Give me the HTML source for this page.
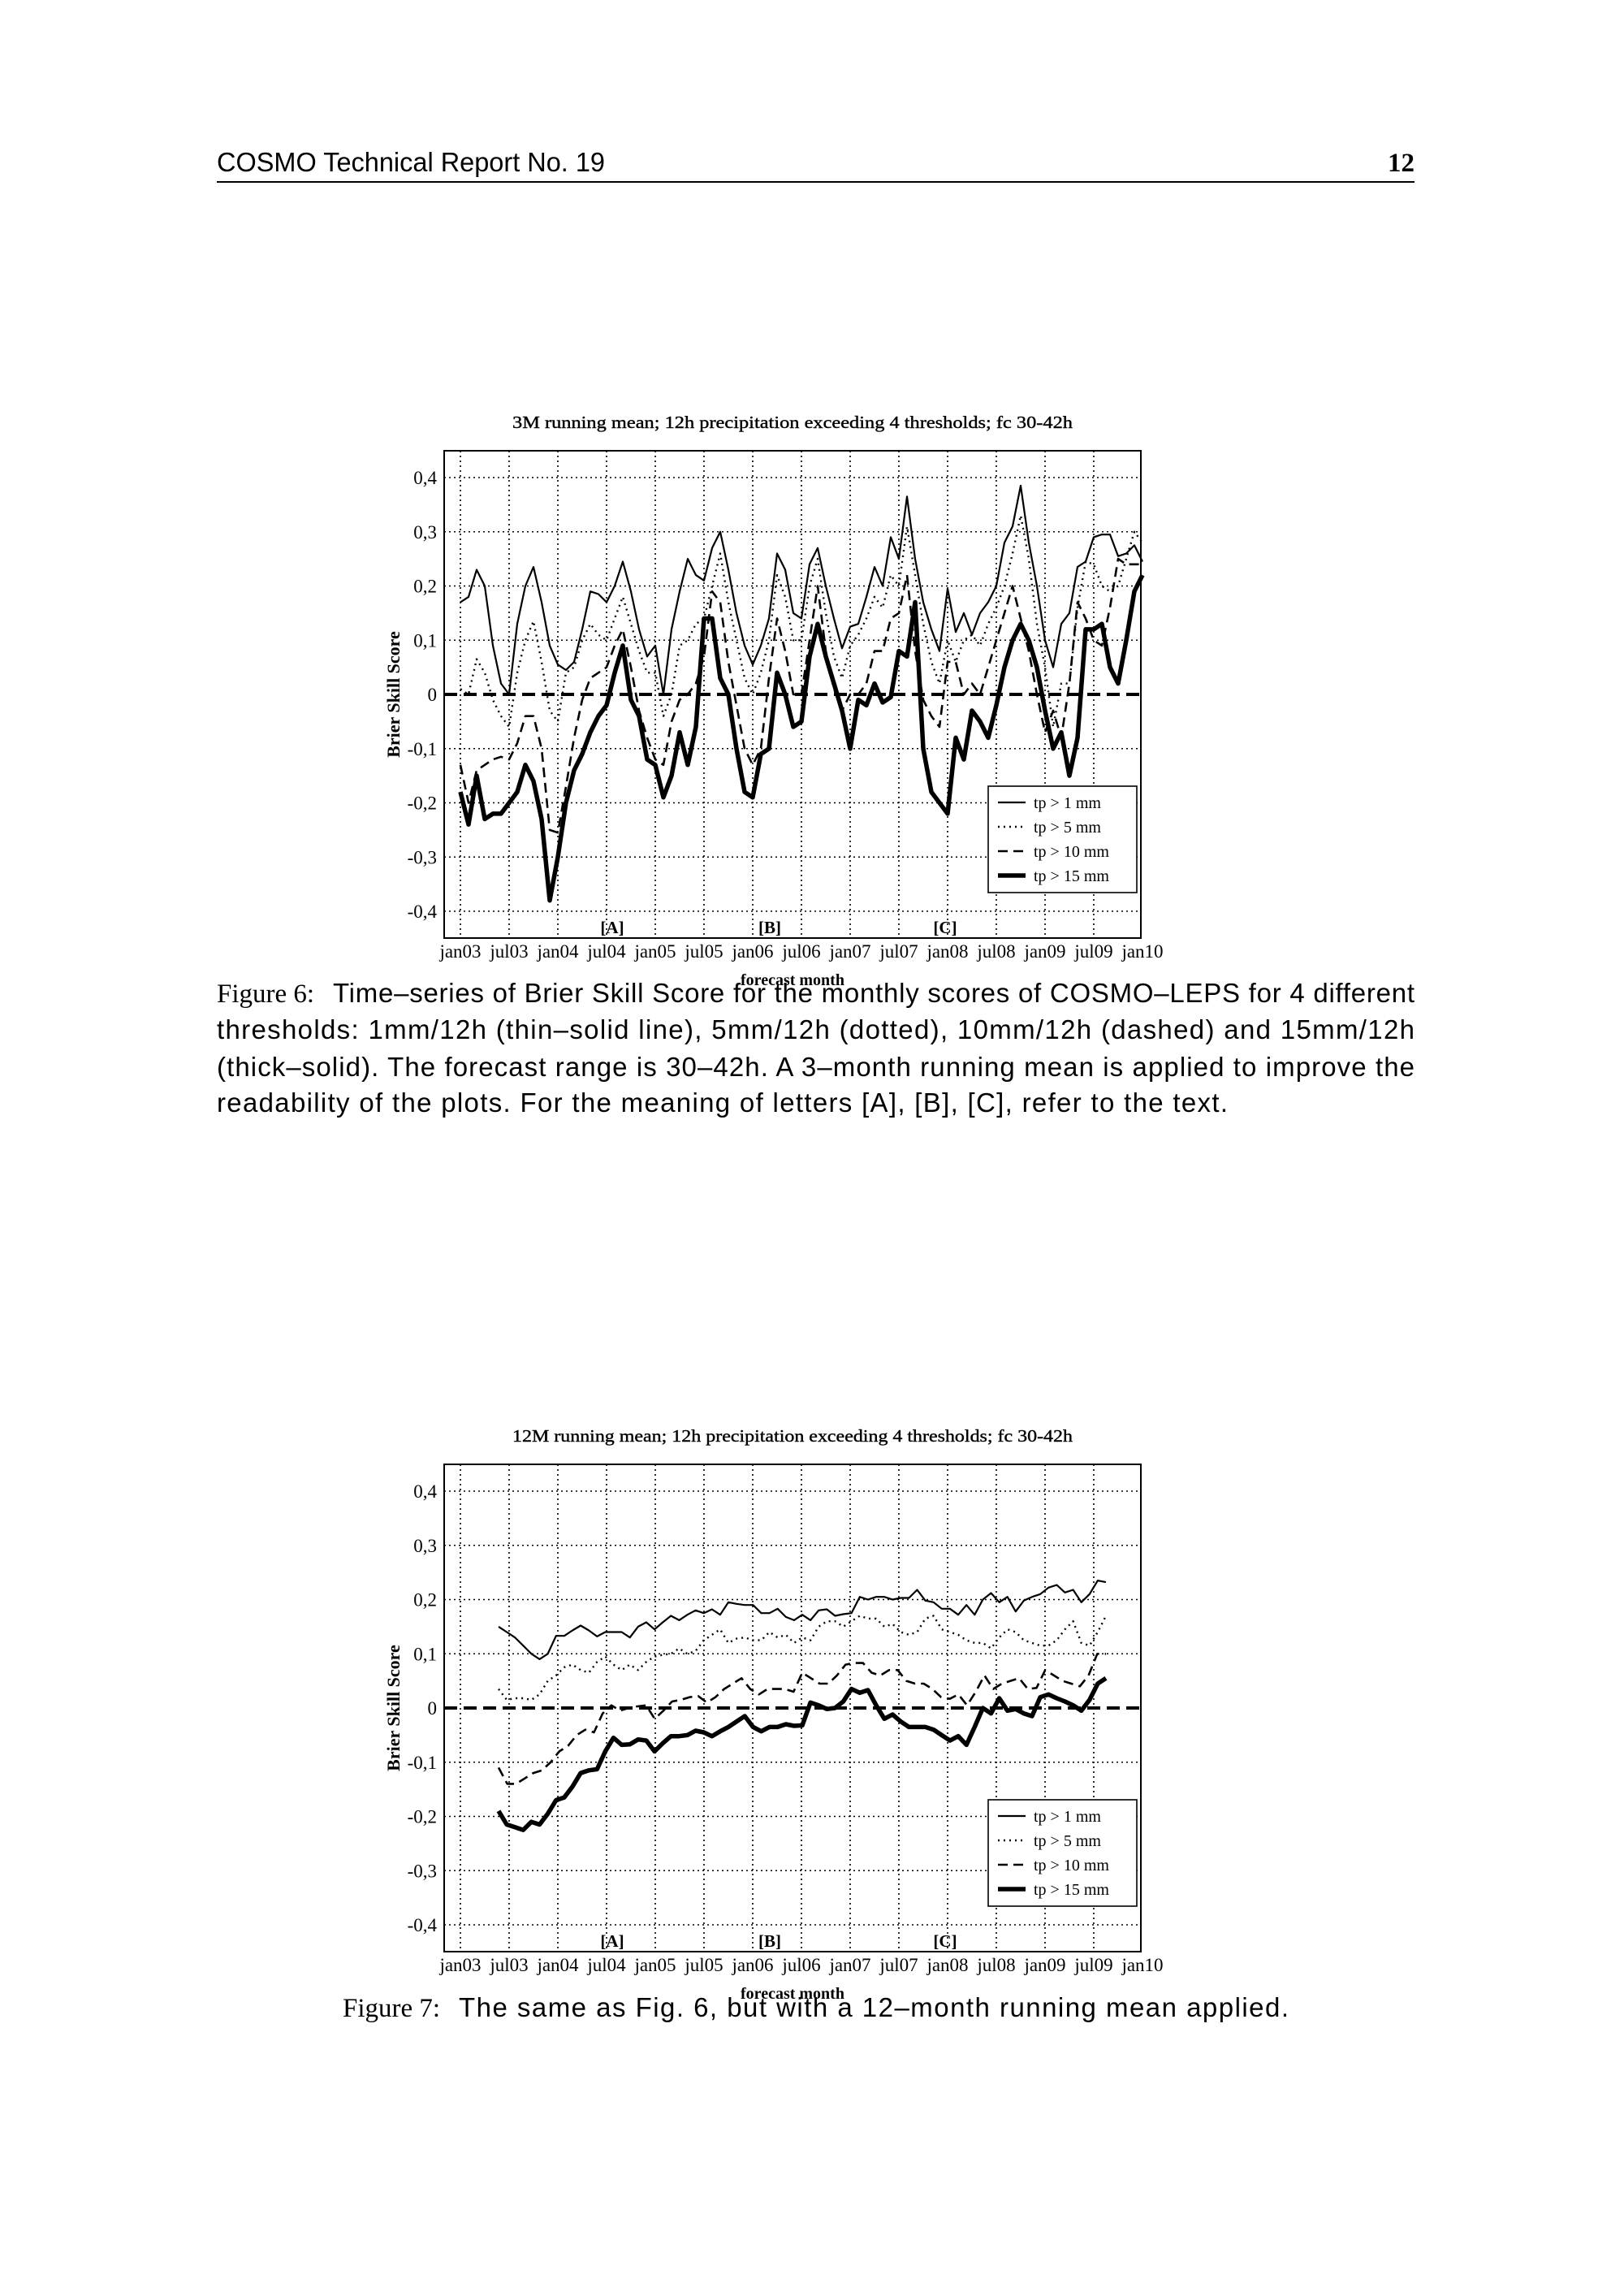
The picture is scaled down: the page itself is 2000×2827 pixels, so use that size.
<!DOCTYPE html>
<html><head><meta charset="utf-8">
<style>
html,body{margin:0;padding:0;background:#fff;}
svg{display:block;}
.cap{font-family:"Liberation Sans",sans-serif;font-size:33px;fill:#000;}
.fig{font-family:"Liberation Serif",serif;font-size:33px;fill:#000;}
.t{font-family:"Liberation Serif",serif;fill:#000;}
</style></head>
<body>
<svg id="s" width="2000" height="2827" viewBox="0 0 2000 2827" xmlns="http://www.w3.org/2000/svg">
<rect width="2000" height="2827" fill="#fff"/>
<text x="267" y="211" class="cap" font-size="31" textLength="478" lengthAdjust="spacingAndGlyphs">COSMO Technical Report No. 19</text>
<text x="1742" y="211" class="t" font-size="33" font-weight="bold" text-anchor="end">12</text>
<rect x="267" y="223" width="1475" height="2" fill="#000"/>

<text x="267" y="1234" class="fig">Figure 6:</text>
<text x="410" y="1234" class="cap" textLength="1332" lengthAdjust="spacing">Time–series of Brier Skill Score for the monthly scores of COSMO–LEPS for 4 different</text>
<text x="267" y="1279" class="cap" textLength="1475" lengthAdjust="spacing">thresholds: 1mm/12h (thin–solid line), 5mm/12h (dotted), 10mm/12h (dashed) and 15mm/12h</text>
<text x="267" y="1325" class="cap" textLength="1475" lengthAdjust="spacing">(thick–solid). The forecast range is 30–42h. A 3–month running mean is applied to improve the</text>
<text x="267" y="1369" class="cap" textLength="1245" lengthAdjust="spacing">readability of the plots. For the meaning of letters [A], [B], [C], refer to the text.</text>

<text x="422" y="2502" class="fig" transform="translate(0,-19)">Figure 7:</text>
<text x="565" y="2483" class="cap" textLength="1022" lengthAdjust="spacing">The same as Fig. 6, but with a 12–month running mean applied.</text>
<g id="c1"></g><g id="c2"></g>
</svg>
<script>
const NS="http://www.w3.org/2000/svg";
function el(p,tag,a,txt){const e=document.createElementNS(NS,tag);for(const k in a)e.setAttribute(k,a[k]);if(txt!==undefined)e.textContent=txt;p.appendChild(e);return e;}
const X0=567, PX=10;
function chart(g,top,title,series){
  const L=547,R=1405,T=top,B=top+600;
  const Y0=top+300, PY=667.5;
  const X=m=>X0+PX*m, Y=v=>Y0-v*PY;
  for(let k=0;k<14;k++){el(g,'line',{x1:X(6*k),x2:X(6*k),y1:T,y2:B,stroke:'#000','stroke-width':1.6,'stroke-dasharray':'2 4'});}
  for(let v=-4;v<=4;v++){ if(v==0)continue; el(g,'line',{x1:L,x2:R,y1:Y(v/10),y2:Y(v/10),stroke:'#000','stroke-width':1.6,'stroke-dasharray':'2 4'});}
  const lab=['0,4','0,3','0,2','0,1','0','-0,1','-0,2','-0,3','-0,4'];
  for(let i=0;i<9;i++){el(g,'text',{x:538,y:Y((4-i)/10)+8,class:'t','font-size':23,'text-anchor':'end'},lab[i]);}
  const xl=['jan03','jul03','jan04','jul04','jan05','jul05','jan06','jul06','jan07','jul07','jan08','jul08','jan09','jul09','jan10'];
  for(let k=0;k<15;k++){el(g,'text',{x:X(6*k),y:B+24,class:'t','font-size':23,'text-anchor':'middle'},xl[k]);}
  el(g,'text',{x:976,y:B+58,class:'t','font-size':20,'font-weight':'bold','text-anchor':'middle'},'forecast month');
  el(g,'text',{x:976,y:T-28,class:'t','font-size':21,'text-anchor':'middle',textLength:690,lengthAdjust:'spacingAndGlyphs',stroke:'#000','stroke-width':0.4},title);
  el(g,'text',{x:0,y:0,class:'t','font-size':22,'font-weight':'bold','text-anchor':'middle',transform:`translate(492,${Y0}) rotate(-90)`},'Brier Skill Score');
  [['[A]',754],['[B]',948],['[C]',1164]].forEach(a=>el(g,'text',{x:a[1],y:B-6,class:'t','font-size':21,'font-weight':'bold','text-anchor':'middle'},a[0]));
  el(g,'line',{x1:L,x2:R,y1:Y0,y2:Y0,stroke:'#000','stroke-width':4,'stroke-dasharray':'16 8'});
  const sty=[{w:2.2,d:''},{w:2.4,d:'2 5'},{w:2.6,d:'12 7'},{w:5.5,d:''}];
  series.forEach((s,i)=>{
    let m0=s[0],m1=s[1],v=s[2],n=v.length;
    let d=v.map((y,j)=>(j?'L':'M')+X(m0+(m1-m0)*j/(n-1)).toFixed(1)+' '+Y(y).toFixed(1)).join(' ');
    el(g,'path',{d:d,fill:'none',stroke:'#000','stroke-width':sty[i].w,'stroke-dasharray':sty[i].d,'stroke-linejoin':'round'});
  });
  const ly=T+413;
  el(g,'rect',{x:1217,y:ly,width:183,height:131,fill:'#fff',stroke:'#000','stroke-width':1.6});
  const ln=['tp > 1 mm','tp > 5 mm','tp > 10 mm','tp > 15 mm'];
  for(let i=0;i<4;i++){const yy=ly+20+30*i;
    el(g,'line',{x1:1229,x2:1263,y1:yy,y2:yy,stroke:'#000','stroke-width':sty[i].w,'stroke-dasharray':sty[i].d});
    el(g,'text',{x:1273,y:yy+7,class:'t','font-size':20},ln[i]);}
  el(g,'rect',{x:L,y:T,width:R-L,height:B-T,fill:'none',stroke:'#000','stroke-width':2});
}
const a1=[.17,.18,.23,.2,.09,.02,0,.13,.2,.235,.17,.09,.055,.045,.06,.12,.19,.185,.17,.2,.245,.19,.12,.07,.09,0,.12,.19,.25,.22,.21,.27,.3,.23,.15,.09,.055,.09,.14,.26,.23,.15,.14,.24,.27,.2,.14,.085,.125,.13,.18,.235,.2,.29,.25,.365,.25,.17,.12,.08,.195,.115,.15,.11,.15,.17,.2,.28,.31,.385,.28,.2,.1,.05,.13,.15,.235,.245,.29,.295,.295,.255,.26,.275,.245];
const a2=[.01,0,.065,.04,-.01,-.04,-.06,.04,.1,.135,.06,-.03,-.05,.04,.05,.1,.13,.11,.1,.14,.18,.13,.08,.04,.04,-.04,0,.09,.1,.13,.14,.2,.26,.17,.1,.03,0,.04,.1,.22,.18,.1,.1,.2,.25,.15,.07,.03,.09,.11,.14,.18,.16,.22,.2,.31,.22,.13,.06,.02,.1,.06,.1,.11,.09,.13,.16,.2,.26,.33,.25,.13,.05,-.06,.02,.02,.16,.245,.24,.2,.19,.2,.25,.3,.28];
const a3=[-.13,-.2,-.14,-.13,-.12,-.115,-.12,-.09,-.04,-.04,-.1,-.25,-.255,-.17,-.08,-.01,.03,.04,.05,.09,.12,.05,-.03,-.08,-.12,-.13,-.05,-.01,0,.02,.07,.19,.17,.06,-.02,-.1,-.13,-.1,.03,.14,.08,0,0,.1,.2,.08,.01,-.03,0,0,.02,.08,.08,.14,.15,.22,.08,-.01,-.04,-.06,.06,.06,0,.02,0,.05,.1,.15,.2,.14,.08,0,-.07,-.03,-.08,.02,.17,.14,.1,.09,.16,.25,.24,.24,.24];
const a4=[-.18,-.24,-.15,-.23,-.22,-.22,-.2,-.18,-.13,-.16,-.23,-.38,-.3,-.2,-.14,-.11,-.07,-.04,-.02,.04,.09,-.01,-.04,-.12,-.13,-.19,-.15,-.07,-.13,-.06,.14,.14,.03,0,-.1,-.18,-.19,-.11,-.1,.04,0,-.06,-.05,.07,.13,.07,.02,-.03,-.1,-.01,-.02,.02,-.015,-.005,.08,.07,.17,-.1,-.18,-.2,-.22,-.08,-.12,-.03,-.05,-.08,-.02,.05,.1,.13,.1,.05,-.03,-.1,-.07,-.15,-.08,.12,.12,.13,.05,.02,.1,.19,.22];
chart(document.getElementById('c1'),555,'3M running mean; 12h precipitation exceeding 4 thresholds; fc 30-42h',
 [[0,84,a1],[0,84,a2],[0,84,a3],[0,84,a4]]);
const b1=[.15,.14,.13,.115,.1,.09,.1,.133,.133,.143,.152,.143,.132,.14,.14,.14,.13,.15,.158,.145,.158,.17,.162,.172,.18,.175,.182,.172,.195,.192,.19,.19,.175,.175,.183,.168,.162,.172,.162,.18,.182,.17,.173,.175,.205,.2,.205,.205,.2,.203,.203,.218,.198,.195,.183,.183,.172,.19,.172,.2,.212,.195,.205,.178,.198,.205,.21,.222,.227,.213,.218,.195,.21,.235,.232];
const b2=[.035,.015,.018,.018,.015,.025,.05,.06,.075,.08,.07,.065,.085,.095,.08,.07,.08,.07,.085,.095,.098,.1,.11,.1,.105,.125,.135,.145,.12,.128,.13,.125,.125,.14,.13,.135,.12,.13,.125,.15,.16,.16,.15,.16,.17,.165,.165,.15,.155,.14,.135,.14,.165,.17,.145,.14,.135,.125,.12,.12,.11,.13,.145,.14,.125,.12,.115,.115,.125,.145,.16,.12,.115,.14,.17];
const b3=[-.11,-.14,-.14,-.13,-.12,-.115,-.1,-.08,-.07,-.05,-.04,-.045,-.01,.005,-.005,0,.003,.005,-.02,-.005,.012,.015,.02,.022,.01,.02,.035,.045,.055,.035,.025,.035,.035,.035,.03,.065,.055,.045,.045,.06,.08,.083,.083,.065,.06,.07,.07,.05,.045,.045,.035,.02,.017,.025,.005,.03,.06,.035,.045,.05,.055,.035,.037,.07,.06,.05,.045,.04,.06,.1,.1];
const b4=[-.19,-.215,-.22,-.225,-.21,-.215,-.195,-.17,-.165,-.145,-.12,-.115,-.113,-.08,-.055,-.068,-.067,-.058,-.06,-.08,-.065,-.052,-.052,-.05,-.042,-.045,-.052,-.043,-.035,-.025,-.015,-.035,-.043,-.035,-.035,-.03,-.033,-.032,.01,.005,-.002,0,.012,.035,.028,.033,.005,-.02,-.012,-.025,-.035,-.035,-.035,-.04,-.05,-.06,-.052,-.068,-.035,0,-.01,.018,-.005,-.002,-.01,-.015,.02,.025,.018,.012,.005,-.005,.015,.045,.055];
chart(document.getElementById('c2'),1803,'12M running mean; 12h precipitation exceeding 4 thresholds; fc 30-42h',
 [[4.7,79.5,b1],[4.7,79.5,b2],[4.7,79.5,b3],[4.7,79.5,b4]]);
</script>
</body></html>
